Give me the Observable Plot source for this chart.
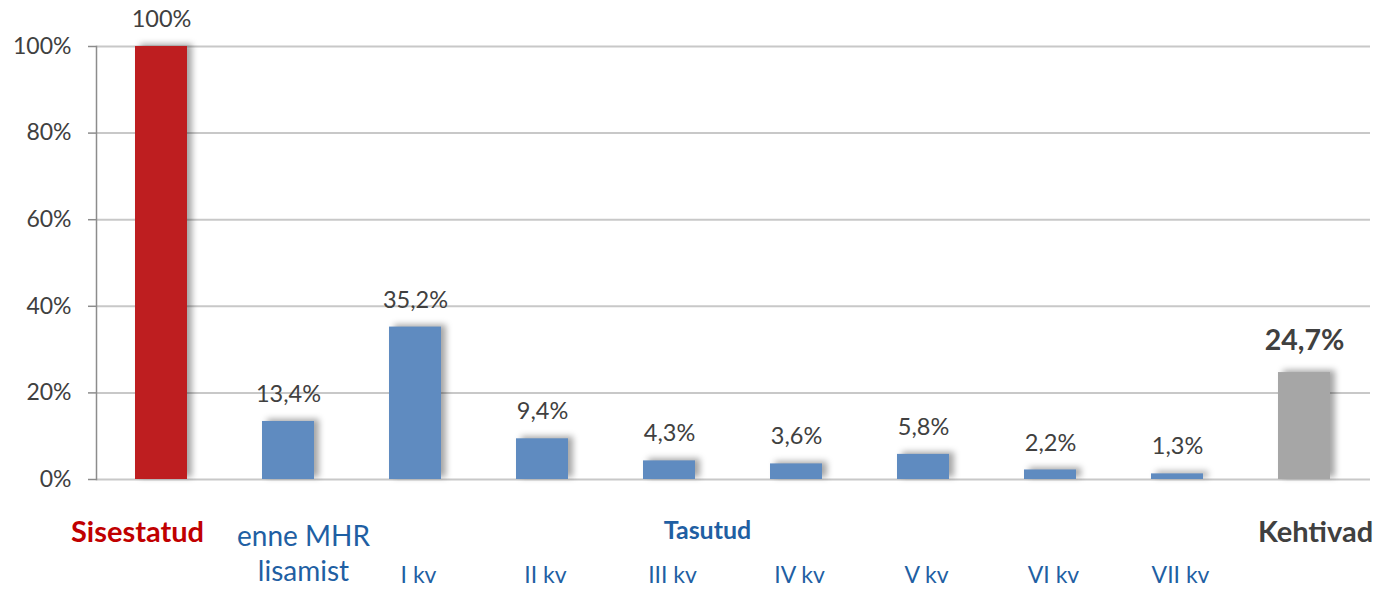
<!DOCTYPE html>
<html>
<head>
<meta charset="utf-8">
<script src="https://cdn.jsdelivr.net/npm/d3@7"></script>
<script src="https://cdn.jsdelivr.net/npm/@observablehq/plot@0.6"></script>
<style>
  html, body { margin: 0; padding: 0; background: #fff; }
  #chart { width: 1381px; height: 590px; }
</style>
</head>
<body>
<div id="chart"></div>
<script>
// ---- data ----
const categories = ["Sisestatud", "enne MHR lisamist", "I kv", "II kv", "III kv", "IV kv", "V kv", "VI kv", "VII kv", "Kehtivad"];
const values = [100, 13.4, 35.2, 9.4, 4.3, 3.6, 5.8, 2.2, 1.3, 24.7];
const valueLabels = ["100%", "13,4%", "35,2%", "9,4%", "4,3%", "3,6%", "5,8%", "2,2%", "1,3%", "24,7%"];
const groups = ["Sisestatud", "Tasutud", "Tasutud", "Tasutud", "Tasutud", "Tasutud", "Tasutud", "Tasutud", "Tasutud", "Kehtivad"];
const axisLabels = ["Sisestatud", "enne MHR\nlisamist", "I kv", "II kv", "III kv", "IV kv", "V kv", "VI kv", "VII kv", "Kehtivad"];
const groupTitle = "Tasutud";
const groupTitleAt = "III kv";
const yTicks = [0, 20, 40, 60, 80, 100];

const data = categories.map((c, i) => ({
  cat: c, value: values[i], label: valueLabels[i], group: groups[i], axis: axisLabels[i]
}));

const isQuarter = d => d.group === "Tasutud" && d.cat !== "enne MHR lisamist";

const chart = Plot.plot({
  width: 1381,
  height: 590,
  marginLeft: 96,
  marginRight: 11,
  marginTop: 46,
  marginBottom: 111,
  style: { fontFamily: "Lato, 'Open Sans', sans-serif", background: "#fff" },
  x: { domain: categories, paddingInner: 0.59, paddingOuter: 0.295, axis: null },
  y: { domain: [0, 100], ticks: yTicks, axis: null },
  color: { domain: ["Sisestatud", "Tasutud", "Kehtivad"], range: ["#BE1E20", "#5F8BC0", "#A6A6A6"] },
  marks: [
    Plot.gridY(yTicks, { stroke: "#C8C8C8", strokeOpacity: 1, strokeWidth: 2 }),
    Plot.axisY(yTicks, {
      label: null,
      tickFormat: d => d + "%", fontSize: 23, tickSize: 8, tickPadding: 17,
      stroke: "#8C8C8C", strokeWidth: 1.5, color: "#404040", fill: "#404040"
    }),
    Plot.frame({ anchor: "left", stroke: "#8C8C8C", strokeWidth: 1.5 }),
    Plot.barY(data, { x: "cat", y: "value", fill: "group" }),
    Plot.text(data.filter(d => d.cat !== "Kehtivad"), {
      x: "cat", y: "value", text: "label", dy: -27, lineAnchor: "middle",
      fontSize: 23.5, fill: "#404040"
    }),
    Plot.text(data.filter(d => d.cat === "Kehtivad"), {
      x: "cat", y: "value", text: "label", dy: -32, lineAnchor: "middle",
      fontSize: 28.5, fontWeight: "bold", fill: "#404040"
    }),
    // category labels below the plot
    Plot.text(data.filter(d => d.cat === "Sisestatud"), {
      x: "cat", text: "axis", frameAnchor: "bottom", dy: 53, dx: -24, lineAnchor: "middle",
      fontSize: 29, fontWeight: "bold", fill: "#C00000"
    }),
    Plot.text(data.filter(d => d.cat === "enne MHR lisamist"), {
      x: "cat", text: "axis", frameAnchor: "bottom", dy: 73, dx: 15, lineAnchor: "middle",
      fontSize: 28, lineHeight: 1.25, fill: "#1F5FA3"
    }),
    Plot.text(data.filter(isQuarter), {
      x: "cat", text: "axis", frameAnchor: "bottom", dy: 96, dx: 3, lineAnchor: "middle",
      fontSize: 23, fill: "#1F5FA3"
    }),
    Plot.text([groupTitle], {
      x: () => groupTitleAt, text: d => d, frameAnchor: "bottom", dy: 51, dx: 38, lineAnchor: "middle",
      fontSize: 25, fontWeight: "bold", fill: "#1F5FA3"
    }),
    Plot.text(data.filter(d => d.cat === "Kehtivad"), {
      x: "cat", text: "axis", frameAnchor: "bottom", dy: 53, dx: 11, lineAnchor: "middle",
      fontSize: 29, fontWeight: "bold", fill: "#404040"
    })
  ]
});

// soft drop shadow on the bars
const barGroup = chart.querySelector('g[aria-label="bar"]');
if (barGroup) barGroup.style.filter = "drop-shadow(5px -2px 3px rgba(0,0,0,0.35))";

document.getElementById("chart").appendChild(chart);
</script>
</body>
</html>
